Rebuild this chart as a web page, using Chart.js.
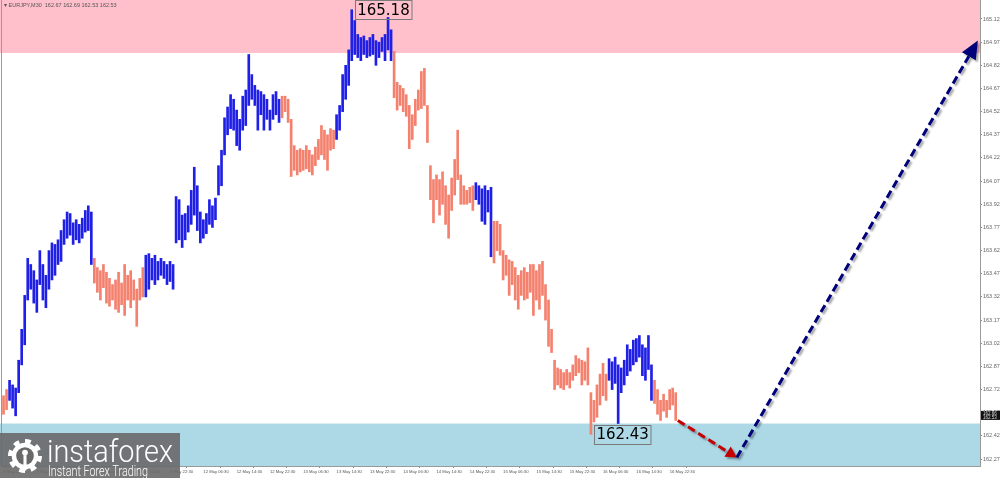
<!DOCTYPE html>
<html>
<head>
<meta charset="utf-8">
<script src="https://cdn.jsdelivr.net/npm/chart.js@4.4.1/dist/chart.umd.min.js"></script>
<style>
  html, body { margin: 0; padding: 0; background: #fff; }
  #wrap { width: 1000px; height: 478px; }
</style>
</head>
<body>
<div id="wrap"><canvas id="chart" width="1000" height="478"></canvas></div>
<script>
// EURJPY M30 bars (high / low per bar)
const highs = [
  162.68, 162.72, 162.78, 162.75, 162.73, 162.91, 163.11, 163.33, 163.57, 163.53,
  163.49, 163.43, 163.62, 163.53, 163.46, 163.62, 163.67, 163.66, 163.69, 163.75,
  163.82, 163.87, 163.86, 163.80, 163.82, 163.79, 163.83, 163.88, 163.91, 163.87,
  163.57, 163.51, 163.49, 163.53, 163.48, 163.44, 163.40, 163.43, 163.48, 163.41,
  163.53, 163.46, 163.49, 163.43, 163.37, 163.44, 163.51, 163.59, 163.60, 163.57,
  163.59, 163.55, 163.57, 163.55, 163.53, 163.55, 163.53, 163.97, 163.95, 163.85,
  163.86, 163.91, 164.01, 164.16, 164.04, 163.87, 163.82, 163.86, 163.95, 163.91,
  163.96, 164.17, 164.27, 164.48, 164.55, 164.63, 164.60, 164.53, 164.47, 164.62,
  164.66, 164.89, 164.76, 164.69, 164.66, 164.65, 164.63, 164.60, 164.53, 164.63,
  164.65, 164.60, 164.62, 164.62, 164.60, 164.47, 164.30, 164.27, 164.28, 164.27,
  164.30, 164.27, 164.24, 164.29, 164.34, 164.43, 164.40, 164.37, 164.41, 164.40,
  164.50, 164.56, 164.76, 164.82, 164.92, 165.18, 165.11, 165.02, 165.00, 165.01,
  164.98, 165.00, 165.02, 164.98, 164.97, 165.00, 165.02, 165.13, 165.05, 164.91,
  164.71, 164.69, 164.67, 164.63, 164.56, 164.50, 164.60, 164.66, 164.78, 164.80,
  164.56, 164.17, 164.08, 164.11, 164.08, 164.13, 164.04, 163.98, 164.09, 164.21,
  164.40, 164.11, 164.04, 164.01, 164.03, 164.04, 164.06, 164.04, 164.02, 164.04,
  164.01, 164.03, 163.81, 163.81, 163.79, 163.62, 163.59, 163.56, 163.55, 163.51,
  163.46, 163.49, 163.51, 163.48, 163.53, 163.53, 163.49, 163.53, 163.55, 163.40,
  163.30, 163.11, 162.91, 162.86, 162.85, 162.83, 162.85, 162.83, 162.88, 162.94,
  162.92, 162.91, 162.90, 162.99, 162.70, 162.65, 162.75, 162.82, 162.89, 162.82,
  162.92, 162.90, 162.93, 162.88, 162.86, 162.91, 163.01, 162.98, 163.04, 163.05,
  163.07, 163.01, 162.99, 163.07, 162.88, 162.78, 162.72, 162.65, 162.69, 162.65,
  162.72, 162.73, 162.70
];
const lows = [
  162.56, 162.59, 162.65, 162.60, 162.55, 162.70, 162.88, 163.01, 163.30, 163.37,
  163.28, 163.22, 163.40, 163.30, 163.25, 163.37, 163.43, 163.46, 163.53, 163.55,
  163.66, 163.70, 163.72, 163.66, 163.69, 163.67, 163.70, 163.74, 163.75, 163.53,
  163.41, 163.35, 163.30, 163.38, 163.28, 163.26, 163.30, 163.24, 163.22, 163.27,
  163.20, 163.30, 163.25, 163.30, 163.13, 163.30, 163.32, 163.32, 163.37, 163.43,
  163.40, 163.43, 163.46, 163.44, 163.40, 163.42, 163.37, 163.67, 163.69, 163.64,
  163.69, 163.74, 163.79, 163.85, 163.75, 163.67, 163.70, 163.73, 163.79, 163.77,
  163.82, 163.98, 164.04, 164.24, 164.37, 164.41, 164.40, 164.30, 164.27, 164.40,
  164.43, 164.56, 164.60, 164.56, 164.40, 164.50, 164.40, 164.47, 164.40, 164.47,
  164.50, 164.45, 164.48, 164.52, 164.45, 164.10, 164.14, 164.11, 164.13, 164.14,
  164.15, 164.13, 164.11, 164.17, 164.21, 164.24, 164.21, 164.14, 164.27, 164.28,
  164.34, 164.40, 164.52, 164.60, 164.69, 164.85, 164.89, 164.87, 164.85, 164.89,
  164.87, 164.88, 164.89, 164.82, 164.87, 164.91, 164.85, 164.92, 164.85, 164.61,
  164.53, 164.56, 164.52, 164.49, 164.28, 164.34, 164.43, 164.53, 164.54, 164.56,
  164.32, 163.95, 163.80, 163.95, 163.85, 163.92, 163.79, 163.70, 163.88, 163.98,
  164.08, 163.92, 163.92, 163.92, 163.93, 163.88, 163.95, 163.92, 163.81, 163.79,
  163.87, 163.58, 163.54, 163.62, 163.59, 163.43, 163.46, 163.33, 163.40, 163.30,
  163.24, 163.33, 163.30, 163.31, 163.35, 163.20, 163.30, 163.24, 163.33, 163.17,
  163.00, 162.96, 162.72, 162.75, 162.73, 162.72, 162.75, 162.73, 162.78, 162.81,
  162.83, 162.75, 162.78, 162.75, 162.43, 162.51, 162.54, 162.62, 162.68, 162.65,
  162.78, 162.72, 162.76, 162.50, 162.70, 162.75, 162.81, 162.84, 162.88, 162.90,
  162.93, 162.81, 162.78, 162.85, 162.65, 162.63, 162.56, 162.52, 162.58, 162.54,
  162.59, 162.62, 162.52
];

// wave segments: first bar index of each wave and its direction
const waveStarts = [0, 2, 30, 47, 92, 110, 129, 156, 162, 200, 215];
const waveUp = [false, true, false, true, false, true, false, true, false, true, false];

const timeLabels = [
  '8 May 2025', '8 May 14:30', '8 May 22:30', '9 May 06:30', '9 May 14:30', '9 May 22:30',
  '12 May 06:30', '12 May 14:30', '12 May 22:30', '13 May 06:30', '13 May 14:30', '13 May 22:30',
  '14 May 06:30', '14 May 14:30', '14 May 22:30', '15 May 06:30', '15 May 14:30', '15 May 22:30',
  '16 May 06:30', '16 May 14:30', '16 May 22:30'
];
const labelStep = 11;
const totalSlots = 323;

const priceTicks = [
  162.27, 162.42, 162.57, 162.72, 162.87, 163.02, 163.17, 163.32, 163.47, 163.62,
  163.77, 163.92, 164.07, 164.22, 164.37, 164.52, 164.67, 164.82, 164.97, 165.12
];
const priceMin = 162.225;
const priceMax = 165.243;

const sellZone = [164.90, 165.30];
const buyZone = [162.10, 162.50];

const extremeBars = [115, 194];
const extremePrices = [165.18, 162.43];

// forecast path (bar index, price)
const forecastX = [222.7, 242.2, 321.8];
const forecastY = [162.52, 162.28, 164.98];

const headerText = '\u25BE EURJPY,M30  162.67 162.69 162.53 162.53';
const priceTags = ['162.66', '162.53'];
const lastPrice = 162.53;

const UP = '#1f1fe6';
const DOWN = '#f4806e';

function barColors() {
  const out = [];
  for (let i = 0; i < highs.length; i++) {
    let w = 0;
    while (w + 1 < waveStarts.length && waveStarts[w + 1] <= i) w++;
    out.push(waveUp[w] ? UP : DOWN);
  }
  return out;
}

function drawArrow(ctx, x1, y1, x2, y2, color, head, half) {
  const a = Math.atan2(y2 - y1, x2 - x1);
  const bx = x2 - Math.cos(a) * head, by = y2 - Math.sin(a) * head;
  ctx.save();
  ctx.shadowColor = 'rgba(0,0,0,0.35)';
  ctx.shadowOffsetX = 2;
  ctx.shadowOffsetY = 2;
  ctx.shadowBlur = 2;
  ctx.strokeStyle = color;
  ctx.lineWidth = 3;
  ctx.setLineDash([8, 4]);
  ctx.beginPath();
  ctx.moveTo(x1, y1);
  ctx.lineTo(bx, by);
  ctx.stroke();
  ctx.setLineDash([]);
  ctx.fillStyle = color;
  ctx.beginPath();
  ctx.moveTo(x2, y2);
  ctx.lineTo(bx + Math.sin(a) * half, by - Math.cos(a) * half);
  ctx.lineTo(bx - Math.sin(a) * half, by + Math.cos(a) * half);
  ctx.closePath();
  ctx.fill();
  ctx.restore();
}

function fitText(ctx, text, x, y, width, font) {
  ctx.save();
  ctx.font = font;
  const w = ctx.measureText(text).width;
  ctx.translate(x, y);
  ctx.scale(width / w, 1);
  ctx.fillText(text, 0, 0);
  ctx.restore();
}

function drawGear(ctx, cx, cy, r, bg) {
  ctx.save();
  ctx.fillStyle = '#fff';
  ctx.beginPath();
  const n = 16;
  for (let k = 0; k < n; k++) {
    const a0 = (k / n) * Math.PI * 2 - Math.PI / 2;
    const a1 = ((k + 1) / n) * Math.PI * 2 - Math.PI / 2;
    ctx.arc(cx, cy, k % 2 === 0 ? r : r * 0.78, a0, a1);
  }
  ctx.closePath();
  ctx.fill();
  ctx.fillStyle = bg;
  ctx.beginPath();
  ctx.arc(cx, cy, r * 0.52, 0, Math.PI * 2);
  ctx.fill();
  ctx.fillStyle = '#fff';
  ctx.beginPath();
  ctx.arc(cx, cy - r * 0.2, r * 0.17, 0, Math.PI * 2);
  ctx.fill();
  ctx.fillRect(cx - r * 0.09, cy - r * 0.05, r * 0.18, r * 0.9);
  ctx.restore();
}

const overlay = {
  id: 'overlay',
  beforeDraw(chart) {
    const ctx = chart.ctx;
    ctx.save();
    ctx.fillStyle = '#fff';
    ctx.fillRect(0, 0, chart.width, chart.height);
    ctx.restore();
  },
  beforeDatasetsDraw(chart) {
    const { ctx, chartArea: ca, scales: { y } } = chart;
    ctx.save();
    const zone = (z, c) => {
      const top = Math.max(ca.top, y.getPixelForValue(z[1]));
      const bot = Math.min(ca.bottom, y.getPixelForValue(z[0]));
      ctx.fillStyle = c;
      ctx.fillRect(0, top, ca.right, bot - top);
    };
    zone(sellZone, '#ffc0cb');
    zone(buyZone, '#add8e6');
    ctx.strokeStyle = '#9a9a9a';
    ctx.lineWidth = 1;
    ctx.beginPath();
    ctx.moveTo(ca.left - 0.5, ca.top);
    ctx.lineTo(ca.left - 0.5, ca.bottom);
    ctx.stroke();
    ctx.restore();
  },
  afterDraw(chart) {
    const { ctx, chartArea: ca, scales: { x, y } } = chart;
    ctx.save();

    // header
    ctx.fillStyle = '#555';
    ctx.font = '5.5px "Liberation Sans", Arial, sans-serif';
    ctx.textBaseline = 'middle';
    ctx.textAlign = 'left';
    ctx.fillText(headerText, 4, 5);

    // extreme price boxes
    ctx.font = '15px "DejaVu Sans", Verdana, sans-serif';
    extremeBars.forEach((bi, k) => {
      const txt = extremePrices[k].toFixed(2);
      const px = x.getPixelForValue(bi) + 3;
      const py = y.getPixelForValue(extremePrices[k]);
      const w = ctx.measureText(txt).width + 4;
      ctx.strokeStyle = '#7a7a7a';
      ctx.lineWidth = 1;
      ctx.strokeRect(Math.round(px) + 0.5, Math.round(py - 9.5) + 0.5, w, 19);
      ctx.fillStyle = '#000';
      ctx.textBaseline = 'middle';
      ctx.fillText(txt, px + 2.5, py + 1);
    });

    // forecast arrows
    const p = forecastX.map((v, k) => [x.getPixelForValue(v), y.getPixelForValue(forecastY[k])]);
    drawArrow(ctx, p[0][0], p[0][1], p[1][0], p[1][1], '#c40000', 11, 6);
    drawArrow(ctx, p[1][0], p[1][1], p[2][0], p[2][1], '#00007a', 18, 8);

    // price tags on axis
    const ly = y.getPixelForValue(lastPrice);
    ctx.fillStyle = '#111';
    ctx.fillRect(ca.right + 1, ly - 8, chart.width - ca.right - 1, 9);
    ctx.fillStyle = '#ddd';
    ctx.font = '4.5px "Liberation Sans", Arial, sans-serif';
    ctx.fillText(priceTags[0], ca.right + 3, ly - 5.5);
    ctx.fillText(priceTags[1], ca.right + 3, ly - 1.5);

    // logo
    const bg = 'rgba(105,105,105,0.9)';
    ctx.fillStyle = bg;
    ctx.fillRect(0, 433, 180, chart.height - 433);
    drawGear(ctx, 25, 456, 17, '#696969');
    ctx.fillStyle = '#fff';
    ctx.textBaseline = 'alphabetic';
    fitText(ctx, 'instaforex', 47, 462, 126, '300 32px Roboto, "Open Sans", sans-serif');
    fitText(ctx, 'Instant Forex Trading', 48, 476, 100, '300 14px Roboto, "Open Sans", sans-serif');
    ctx.restore();
  }
};

const slots = Array.from({ length: totalSlots }, (_, i) => i);

new Chart(document.getElementById('chart'), {
  type: 'bar',
  data: {
    labels: slots,
    datasets: [{
      data: highs.map((h, i) => [lows[i], h]),
      backgroundColor: barColors(),
      borderWidth: 0,
      barThickness: 2,
    }],
  },
  options: {
    responsive: false,
    animation: false,
    devicePixelRatio: 1,
    layout: { padding: { left: 2, top: 0, right: 0, bottom: 0 } },
    plugins: { legend: { display: false }, tooltip: { enabled: false } },
    scales: {
      x: {
        grid: { display: true, drawOnChartArea: false, tickLength: 2, color: '#888' },
        border: { display: true, color: '#9a9a9a' },
        afterBuildTicks: (s) => { s.ticks = timeLabels.map((_, k) => ({ value: k * labelStep })); },
        afterFit: (s) => { s.height = 12; s.paddingLeft = 0; s.paddingRight = 0; },
        ticks: {
          autoSkip: false,
          maxRotation: 0,
          minRotation: 0,
          align: 'start',
          padding: 1,
          color: '#555',
          font: { size: 4.2, family: '"Liberation Sans", Arial, sans-serif' },
          callback: (v) => timeLabels[v / labelStep] || '',
        },
      },
      y: {
        position: 'right',
        min: priceMin,
        max: priceMax,
        grid: { display: true, drawOnChartArea: false, tickLength: 2, color: '#888' },
        border: { display: true, color: '#9a9a9a' },
        afterBuildTicks: (s) => { s.ticks = priceTicks.map((v) => ({ value: v })); },
        afterFit: (s) => { s.width = 20; s.paddingTop = 0; s.paddingBottom = 0; },
        ticks: {
          padding: 1,
          color: '#666',
          font: { size: 5.5, family: '"Liberation Sans", Arial, sans-serif' },
          callback: (v) => v.toFixed(2),
        },
      },
    },
  },
  plugins: [overlay],
});
</script>
</body>
</html>
